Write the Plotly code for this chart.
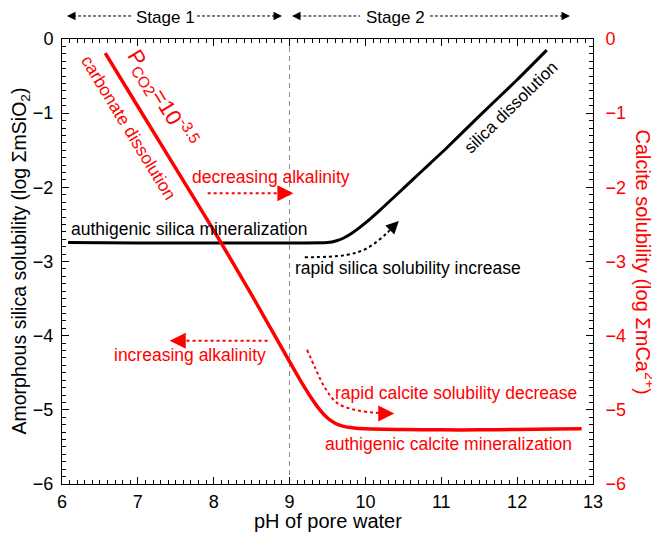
import plotly.graph_objects as go

# ---- data ----
ph_silica = [6.08, 7.0, 8.0, 9.0, 9.5, 9.62, 9.72, 9.82, 10.0, 10.2, 10.4, 10.62, 10.85, 11.07, 11.5, 12.0, 12.39]
log_silica = [-2.745, -2.75, -2.75, -2.75, -2.745, -2.72, -2.68, -2.62, -2.48, -2.30, -2.11, -1.90, -1.68, -1.47, -1.04, -0.55, -0.15]

ph_calcite = [6.57, 7.0, 7.5, 8.0, 8.5, 9.0, 9.1, 9.2, 9.3, 9.4, 9.5, 9.6, 9.7, 9.85, 10.0, 10.5, 11.0, 11.5, 12.0, 12.5, 12.85]
log_calcite = [-0.19, -0.91, -1.745, -2.58, -3.45, -4.35, -4.53, -4.70, -4.86, -5.0, -5.11, -5.18, -5.22, -5.245, -5.255, -5.265, -5.27, -5.27, -5.265, -5.26, -5.255]

stage_boundary_ph = 9.0

# dotted guide arrows (data coordinates)
dec_alk_x = [7.92, 9.0]
dec_alk_y = [-2.08, -2.08]
inc_alk_x = [8.71, 7.46]
inc_alk_y = [-4.07, -4.07]
si_arrow_x = [9.20, 9.75, 10.02, 10.28, 10.41]
si_arrow_y = [-2.943, -2.912, -2.822, -2.62, -2.48]
ca_arrow_x = [9.23, 9.34, 9.47, 9.63, 9.86, 10.13, 10.32]
ca_arrow_y = [-4.19, -4.44, -4.71, -4.91, -5.00, -5.04, -5.05]

RED = "#FF0000"
FONT = "Liberation Sans, Arial, Helvetica, sans-serif"

fig = go.Figure()

# vertical dashed boundary line
fig.add_trace(go.Scatter(x=[stage_boundary_ph, stage_boundary_ph], y=[-6, 0], mode="lines",
                         line=dict(color="#888888", width=1, dash="5px,4px"), hoverinfo="skip"))

fig.add_trace(go.Scatter(x=ph_silica, y=log_silica, mode="lines",
                         line=dict(color="black", width=3, shape="spline", smoothing=0.6)))
fig.add_trace(go.Scatter(x=ph_calcite, y=log_calcite, mode="lines", yaxis="y2",
                         line=dict(color=RED, width=3.5, shape="spline", smoothing=0.6)))

for xs, ys, col in [(dec_alk_x, dec_alk_y, RED), (inc_alk_x, inc_alk_y, RED),
                    (si_arrow_x, si_arrow_y, "black"), (ca_arrow_x, ca_arrow_y, RED)]:
    fig.add_trace(go.Scatter(x=xs, y=ys, mode="lines",
                             line=dict(color=col, width=2, dash="dot", shape="spline"),
                             hoverinfo="skip"))

ann = []

def head(x, y, ax, ay, color, w, s, xref="x", yref="y"):
    ann.append(dict(x=x, y=y, xref=xref, yref=yref, ax=ax, ay=ay, text="", showarrow=True,
                    arrowhead=2, arrowsize=s, arrowwidth=w, arrowcolor=color, standoff=0))

head(9.05, -2.08, -8, 0, RED, 2, 1.6)
head(7.42, -4.07, 8, 0, RED, 2, 1.6)
head(10.44, -2.455, -5, 5, "black", 1.5, 1.7)
head(10.38, -5.05, -8, 0, RED, 2, 1.6)

def txt(x, y, s, color="black", size=17.5, angle=0, xref="x", yref="y", pad=1):
    ann.append(dict(x=x, y=y, xref=xref, yref=yref, text=s, showarrow=False,
                    font=dict(color=color, size=size, family=FONT), textangle=angle,
                    xanchor="center", yanchor="middle", borderpad=pad))

txt(7.32, -0.80, "P<sub>CO2</sub>=10<sup>-3.5</sup>", RED, 22, 58.6)
txt(6.87, -1.19, "carbonate dissolution", RED, 17.5, 58.6)
txt(11.92, -0.93, "silica dissolution", "black", 17, -44.4)
txt(8.755, -1.86, "decreasing alkalinity", RED)
txt(7.674, -2.56, "authigenic silica mineralization", "black")
txt(10.56, -3.09, "rapid silica solubility increase", "black")
txt(7.687, -4.26, "increasing alkalinity", RED)
txt(11.19, -4.77, "rapid calcite solubility decrease", RED)
txt(11.10, -5.46, "authigenic calcite mineralization", RED)

# Stage labels above plot
ytop = 1.0517
ytxt = 1.049
txt(7.358, ytxt, "Stage 1", "black", 17, 0, "x", "paper", 0)
txt(10.39, ytxt, "Stage 2", "black", 17, 0, "x", "paper", 0)
shapes = []
for x0, x1 in [(6.08, 6.93), (7.78, 8.88), (9.05, 9.93), (10.85, 12.68)]:
    shapes.append(dict(type="line", xref="x", yref="paper", x0=x0, x1=x1, y0=ytop, y1=ytop,
                       line=dict(color="black", width=1, dash="3px,2px")))
head(6.066, ytop, 8, 0, "black", 1, 1.7, "x", "paper")
head(8.90, ytop, -8, 0, "black", 1, 1.7, "x", "paper")
head(9.032, ytop, 8, 0, "black", 1, 1.7, "x", "paper")
head(12.697, ytop, -8, 0, "black", 1, 1.7, "x", "paper")

# axis titles
ann.append(dict(x=0.0, y=0.5, xref="paper", yref="paper", xshift=-42, text="Amorphous silica solubility (log ΣmSiO<sub>2</sub>)",
                showarrow=False, textangle=-90, font=dict(size=19.5, color="black", family=FONT),
                xanchor="center", yanchor="middle", borderpad=0))
ann.append(dict(x=1.0, y=0.5, xref="paper", yref="paper", xshift=52, text="Calcite solubility (log ΣmCa<sup>2+</sup>)",
                showarrow=False, textangle=90, font=dict(size=20, color=RED, family=FONT),
                xanchor="center", yanchor="middle"))
ann.append(dict(x=0.5, y=0, xref="paper", yref="paper", yshift=-37, text="pH of pore water",
                showarrow=False, font=dict(size=20, color="black", family=FONT),
                xanchor="center", yanchor="middle"))

axis_common = dict(showgrid=False, zeroline=False, showline=True, linecolor="black", linewidth=1,
                   ticks="inside", ticklen=7, tickwidth=1, tickcolor="black",
                   minor=dict(ticks="inside", ticklen=4, dtick=0.1, tickcolor="black", showgrid=False))

# page body has an 8px margin, so the figure is laid out 8px up/left of the window
fig.update_layout(
    width=660, height=537,
    margin=dict(l=54, r=75, t=31, b=61, autoexpand=False),
    plot_bgcolor="white", paper_bgcolor="white",
    showlegend=False,
    font=dict(family=FONT, size=18, color="black"),
    xaxis=dict(range=[6, 13], dtick=1, tick0=6, mirror="ticks", tickfont=dict(size=18, color="black"),
               ticklabelstandoff=1, **axis_common),
    yaxis=dict(range=[-6, 0], dtick=1, mirror=True, tickfont=dict(size=18, color="black"),
               ticklabelstandoff=4, **axis_common),
    yaxis2=dict(range=[-6, 0], dtick=1, overlaying="y", side="right", tickfont=dict(size=18, color=RED),
                ticklabelstandoff=8, **axis_common),
    annotations=ann,
    shapes=shapes,
)

fig.write_html("out.html")
